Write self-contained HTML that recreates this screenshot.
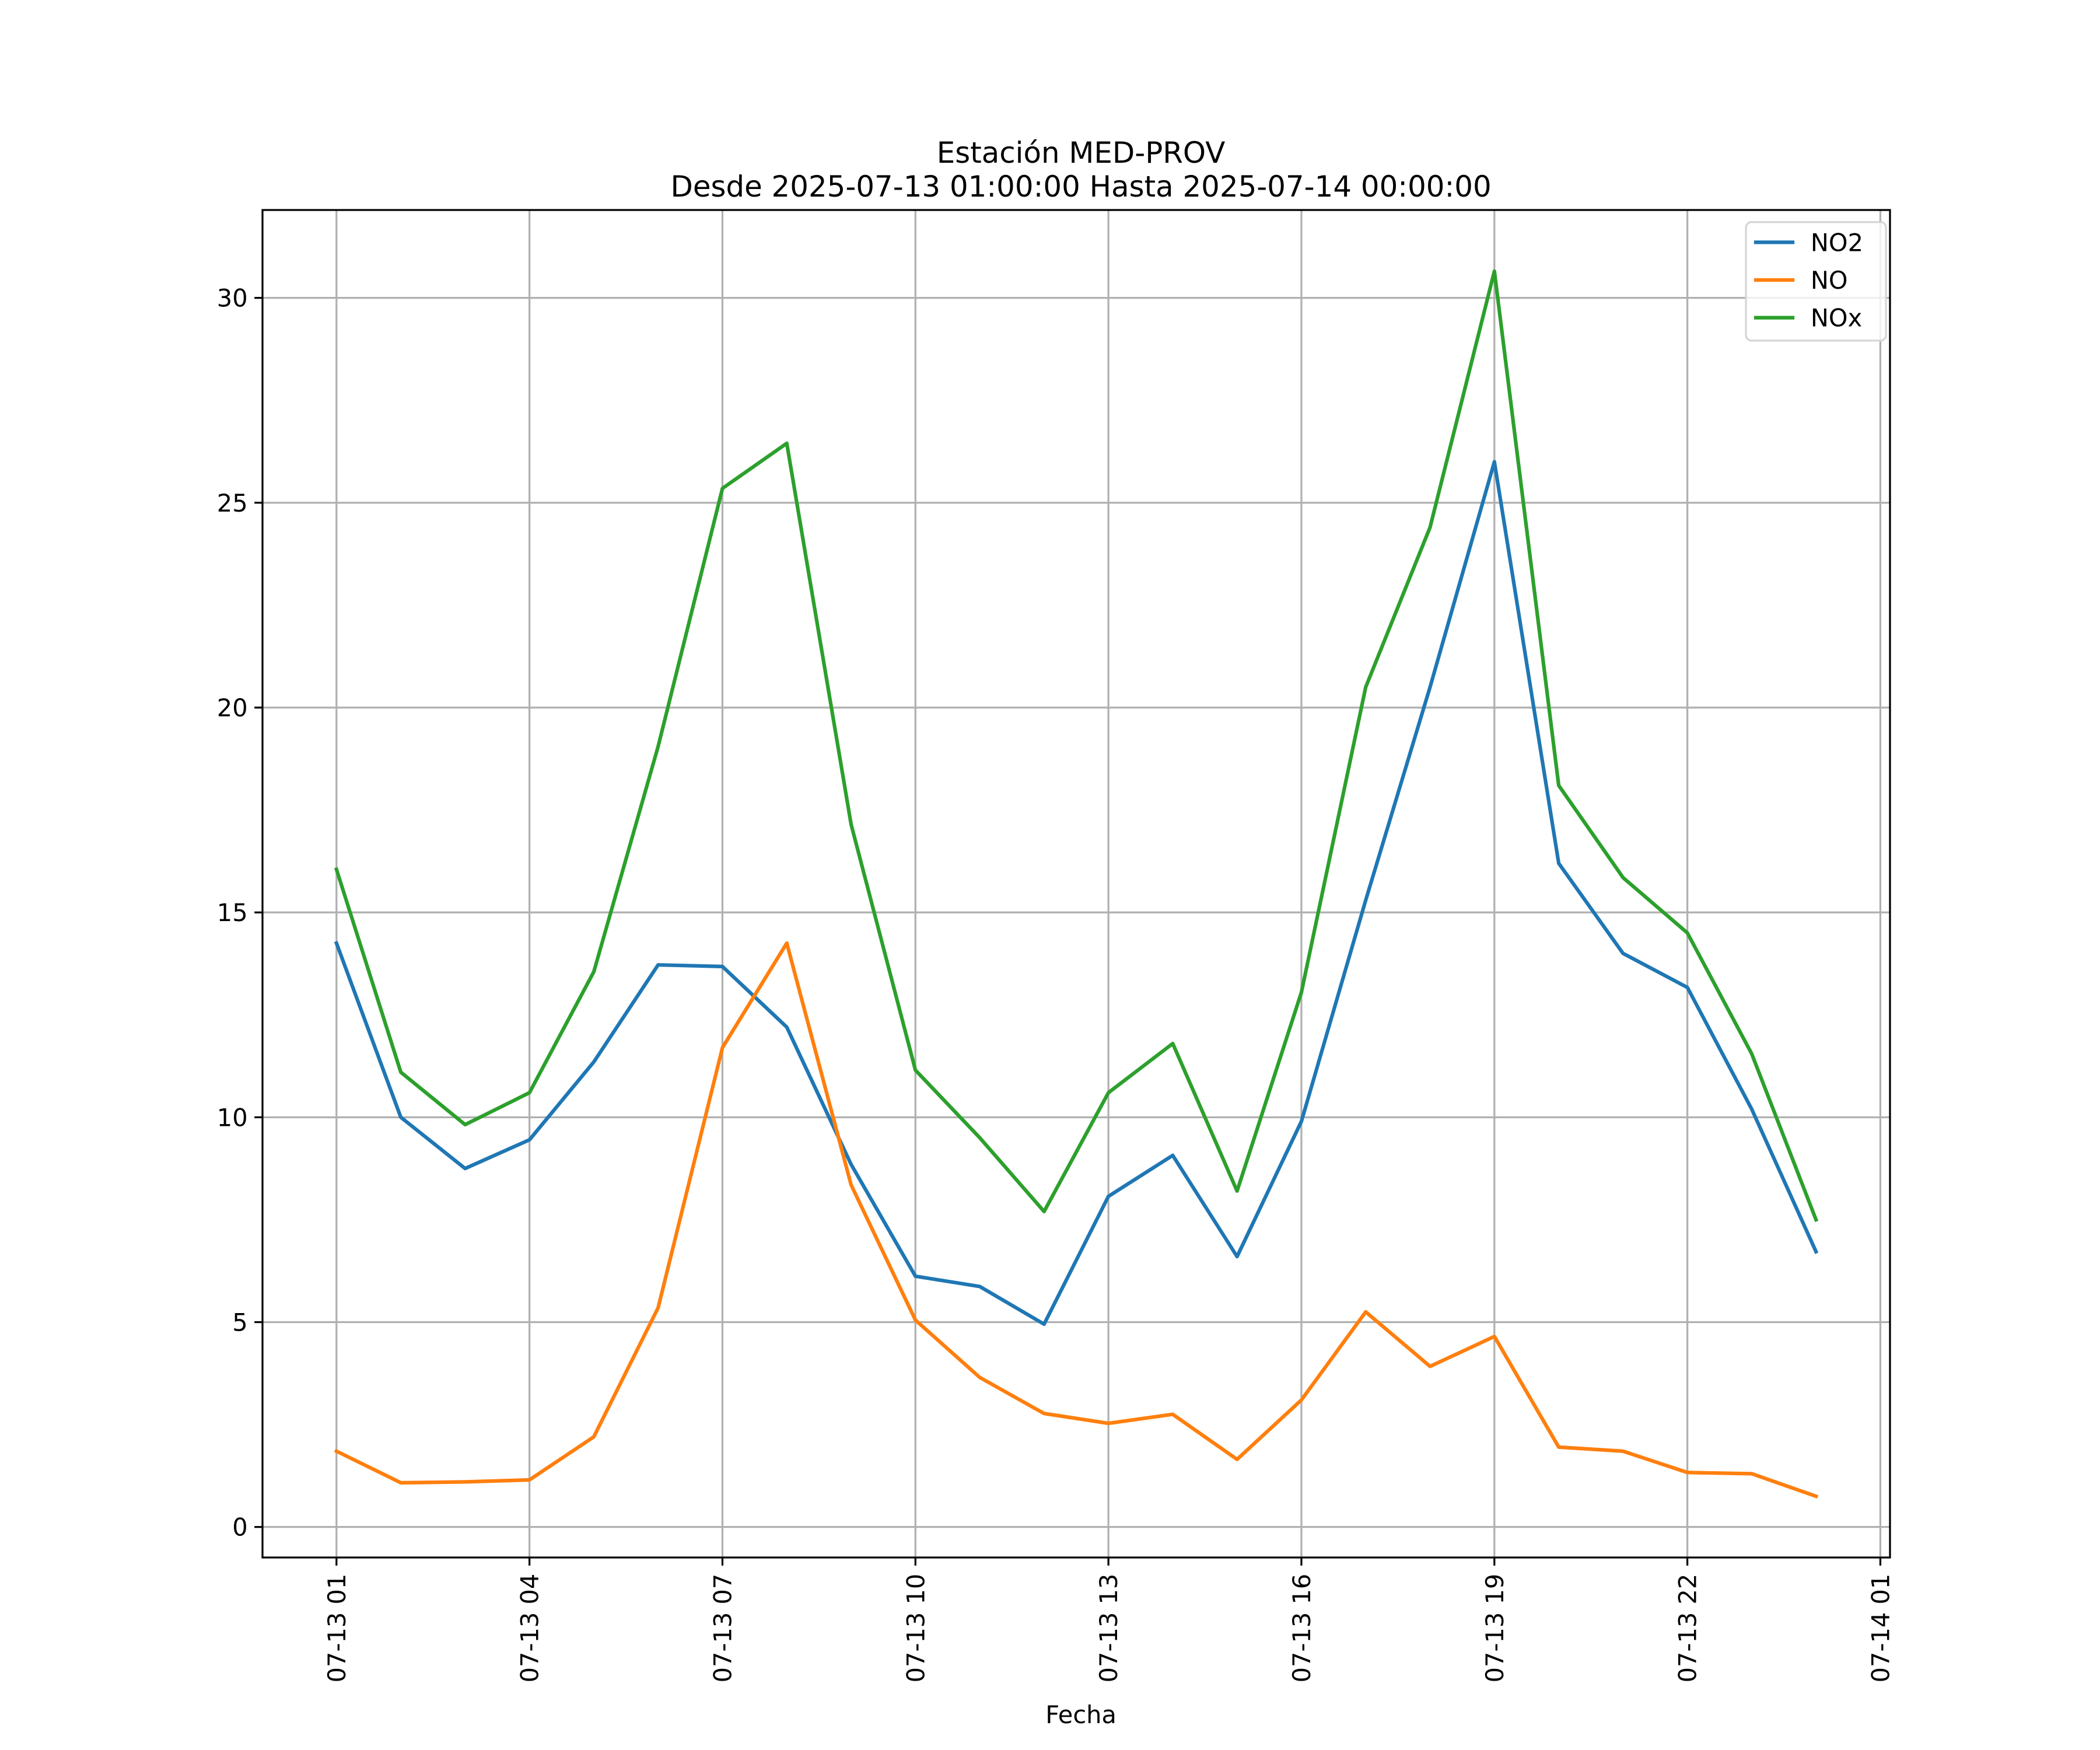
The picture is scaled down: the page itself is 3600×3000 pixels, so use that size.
<!DOCTYPE html>
<html><head><meta charset="utf-8"><style>html,body{margin:0;padding:0;background:#fff}svg{display:block}text{font-family:"DejaVu Sans","Liberation Sans",sans-serif;fill:#000}</style></head>
<body>
<svg id="chart" width="3600" height="3000" viewBox="0 0 1560 1300" xmlns="http://www.w3.org/2000/svg">
<rect width="1560" height="1300" fill="#fff"/>
<g id="grid"></g>
<g id="series"></g>
<rect x="195" y="156" width="1209" height="1001" fill="none" stroke="#000" stroke-width="1.4"/>
<g id="ticks"></g>
<text x="803" y="121" font-size="21.6" text-anchor="middle">Estación MED-PROV</text>
<text x="803" y="146" font-size="21.6" text-anchor="middle">Desde 2025-07-13 01:00:00 Hasta 2025-07-14 00:00:00</text>
<text x="803" y="1280" font-size="18" text-anchor="middle">Fecha</text>
<g>
<rect x="1297" y="165" width="104" height="88" rx="4" fill="#fff" fill-opacity="0.8" stroke="#d5d5d5" stroke-width="1.4"/>
<g><line x1="1303" x2="1333" y1="180" y2="180" stroke="#1f77b4" stroke-width="2.7"/><text x="1345" y="186.5" font-size="18">NO2</text></g>
<g><line x1="1303" x2="1333" y1="208" y2="208" stroke="#ff7f0e" stroke-width="2.7"/><text x="1345" y="214.5" font-size="18">NO</text></g>
<g><line x1="1303" x2="1333" y1="236" y2="236" stroke="#2ca02c" stroke-width="2.7"/><text x="1345" y="242.5" font-size="18">NOx</text></g>
</g>
</svg>
<script>
const hours = [1,2,3,4,5,6,7,8,9,10,11,12,13,14,15,16,17,18,19,20,21,22,23,24];
const no2 = [14.25,10.0,8.75,9.45,11.35,13.72,13.68,12.2,8.85,6.12,5.87,4.95,8.07,9.07,6.6,9.9,15.3,20.5,26.0,16.2,14.0,13.17,10.2,6.72];
const no = [1.85,1.08,1.1,1.15,2.2,5.35,11.7,14.25,8.35,5.05,3.65,2.77,2.53,2.75,1.65,3.1,5.25,3.92,4.65,1.95,1.85,1.33,1.3,0.75];
const nox = [16.05,11.1,9.82,10.6,13.55,19.05,25.35,26.45,17.15,11.15,9.5,7.7,10.6,11.8,8.2,13.05,20.5,24.4,30.65,18.1,15.85,14.5,11.55,7.5];
const xTickHours = [1,4,7,10,13,16,19,22,25];
const xTickLabels = ["07-13 01","07-13 04","07-13 07","07-13 10","07-13 13","07-13 16","07-13 19","07-13 22","07-14 01"];
const yTicks = [0,5,10,15,20,25,30];

const L=195,R=1404,T=156,B=1157;
const xmin=1-23*0.05, xmax=24+23*0.05;
const all=no2.concat(no,nox); const dmin=Math.min(...all), dmax=Math.max(...all);
const ymin=dmin-(dmax-dmin)*0.05, ymax=dmax+(dmax-dmin)*0.05;
const X=h=>L+(h-xmin)/(xmax-xmin)*(R-L);
const Y=v=>B-(v-ymin)/(ymax-ymin)*(B-T);
const NS="http://www.w3.org/2000/svg";
function mk(tag,attrs,parent){const e=document.createElementNS(NS,tag);for(const k in attrs)e.setAttribute(k,attrs[k]);parent.appendChild(e);return e;}
const grid=document.getElementById('grid'),ticks=document.getElementById('ticks'),series=document.getElementById('series');
xTickHours.forEach((h,i)=>{
  const x=X(h);
  const g=mk('line',{x1:x,x2:x,y1:T,y2:B,stroke:'#b0b0b0','stroke-width':1.4},grid);
  
  
  const t=mk('line',{x1:x,x2:x,y1:B,y2:B+6,stroke:'#000','stroke-width':1.4},ticks);
  
  
  const tx=mk('text',{x:0,y:0,'font-size':18,'text-anchor':'end',transform:`translate(${x+6.5},${B+12}) rotate(-90)`},ticks);
  tx.textContent=xTickLabels[i];
  
  
});
yTicks.forEach(v=>{
  const y=Y(v);
  const g=mk('line',{x1:L,x2:R,y1:y,y2:y,stroke:'#b0b0b0','stroke-width':1.4},grid);
  
  
  const t=mk('line',{x1:L-6,x2:L,y1:y,y2:y,stroke:'#000','stroke-width':1.4},ticks);
  
  
  const tx=mk('text',{x:L-11,y:y+6.5,'font-size':18,'text-anchor':'end'},ticks);
  tx.textContent=v;
  
  
});
[[no2,'#1f77b4','no2-line'],[no,'#ff7f0e','no-line'],[nox,'#2ca02c','nox-line']].forEach(([d,c,n])=>{
  const p=mk('polyline',{points:d.map((v,i)=>X(hours[i])+','+Y(v)).join(' '),fill:'none',stroke:c,'stroke-width':2.7,'stroke-linejoin':'round','stroke-linecap':'square'},series);
  
  
});
</script>
</body></html>
